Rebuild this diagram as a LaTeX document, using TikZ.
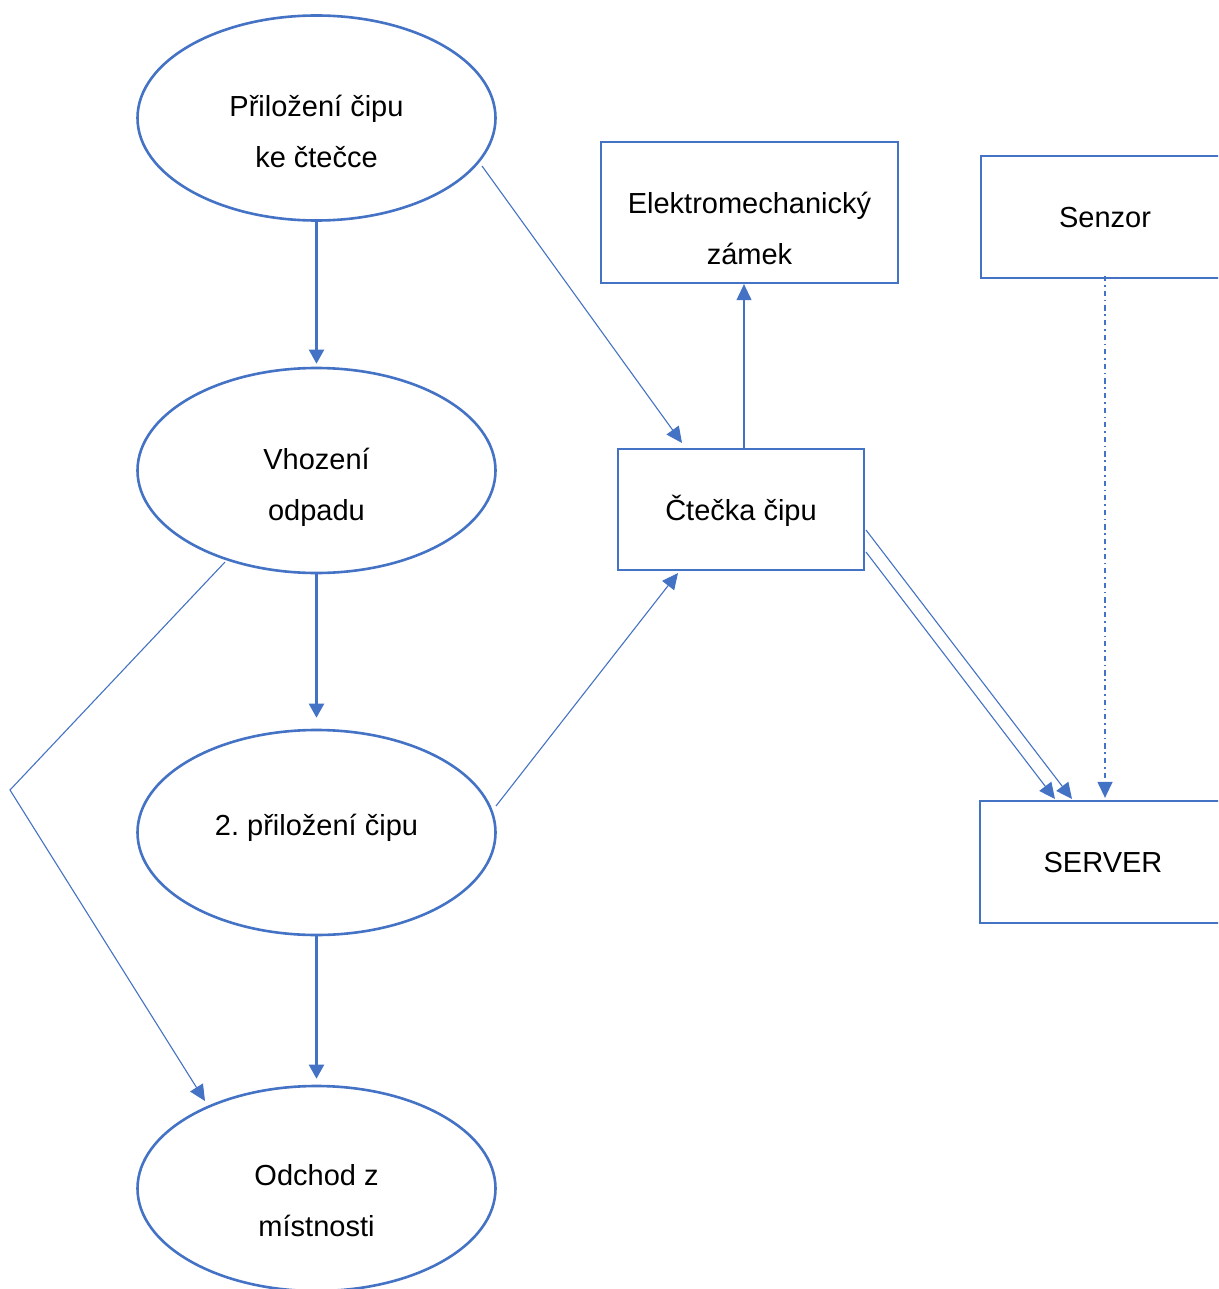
\documentclass[tikz,border=0pt]{standalone}
\usepackage{fontspec}
\setmainfont{Liberation Sans}
\usetikzlibrary{shapes.geometric,arrows.meta,calc}
\definecolor{bl}{HTML}{4472C4}
\frenchspacing
\begin{document}
\begin{tikzpicture}[x=1pt,y=-1pt,
  ell/.style={ellipse,draw=bl,line width=2.6pt,minimum width=358pt,minimum height=205pt,inner sep=0pt},
  boxx/.style={rectangle,draw=bl,line width=2.3pt,inner sep=0pt},
  txt/.style={font=\fontsize{29}{51}\selectfont,align=center,inner sep=0pt},
  thickarr/.style={draw=bl,line width=2.2pt,-{Triangle[length=14pt,width=15pt]}},
  thinarr/.style={draw=bl,line width=1.1pt,-{Triangle[length=16pt,width=15pt]}},
  dashdot arr/.style={thinarr,line width=1.3pt,dash pattern=on 5.3pt off 3.8pt on 1.5pt off 4pt}]
\useasboundingbox (0,0) rectangle (1218,1289);
\begin{scope}
\clip (0,0) rectangle (1218,1289);
% ellipses
\node[ell] (e1) at (316.5,118) {};
\node[ell] (e2) at (316.5,470.5) {};
\node[ell] (e3) at (316.5,832.5) {};
\node[ell] (e4) at (316.5,1188.5) {};
\node[txt] (t1) at (316.5,131.5) {\strut Přiložení čipu\\\strut ke čtečce};
\node[txt] (t2) at (316.5,484.5) {\strut Vhození\\\strut odpadu};
\node[txt] (t3) at (316.5,825.5) {\strut 2. přiložení čipu};
\node[txt] (t4) at (316.5,1201) {\strut Odchod z\\\strut místnosti};
% boxes
\node[boxx,minimum width=297pt,minimum height=141pt] (el) at (749.5,212.5) {};
\node[txt] (tel) at (749.5,228.5) {\strut Elektromechanický\\\strut zámek};
\node[boxx,minimum width=248pt,minimum height=122pt] (se) at (1105,217) {};
\node[txt] (tse) at (1105,217.5) {\strut Senzor};
\node[boxx,minimum width=246pt,minimum height=121pt] (ct) at (741,509.5) {};
\node[txt] (tct) at (741,510) {\strut Čtečka čipu};
\node[boxx,minimum width=246pt,minimum height=122pt] (sv) at (1103,862) {};
\node[txt] (tsv) at (1103,862.5) {\strut SERVER};
% coordinates
\coordinate (a1) at (482,166);
\coordinate (a2) at (682,443);
\coordinate (b1) at (496,806);
\coordinate (b2) at (678,573);
\coordinate (c1) at (225,562);
\coordinate (c2) at (10,790);
\coordinate (c3) at (205,1101);
\coordinate (d1) at (866,530);
\coordinate (d2) at (1072,799);
\coordinate (f1) at (866,552);
\coordinate (f2) at (1055,799);
% connectors
\draw[thickarr,shorten >=3pt] (e1.south) -- (e2.north);
\draw[thickarr,shorten >=11pt] (e2.south) -- (e3.north);
\draw[thickarr,shorten >=6pt] (e3.south) -- (e4.north);
\draw[thinarr] (a1) -- (a2);
\draw[thinarr] ([xshift=3pt]ct.north) -- ([xshift=3pt]ct.north |- el.south);
\draw[thinarr] (b1) -- (b2);
\draw[thinarr] (c1) -- (c2) -- (c3);
\draw[thinarr] (d1) -- (d2);
\draw[thinarr] (f1) -- (f2);
\draw[dashdot arr] ([yshift=3pt]se.south) -- ([yshift=2pt]se.south |- sv.north);
\end{scope}
\end{tikzpicture}
\end{document}
